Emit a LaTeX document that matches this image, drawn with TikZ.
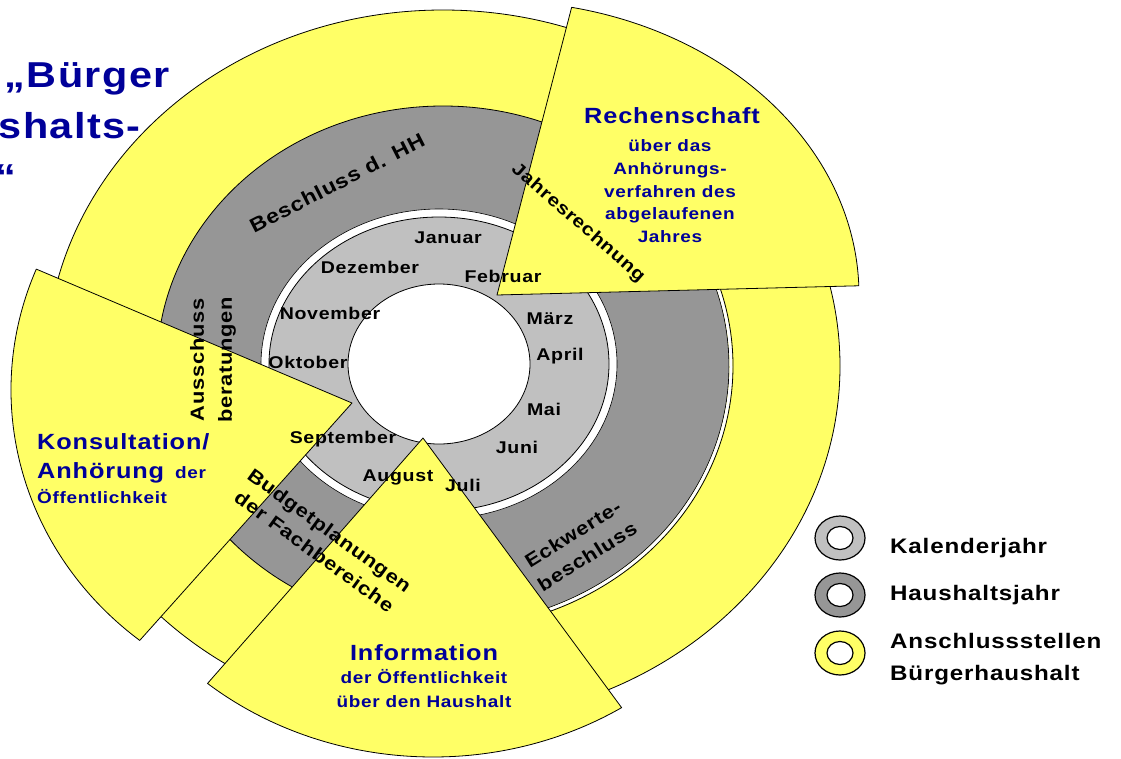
\documentclass[tikz,border=0pt]{standalone}
\usepackage{fontspec}
\setmainfont{Liberation Sans}[FakeStretch=1.15,LetterSpace=4]
\usetikzlibrary{calc}
\definecolor{hhyellow}{RGB}{255,255,102}
\definecolor{hhdark}{RGB}{150,150,150}
\definecolor{hhlight}{RGB}{192,192,192}
\definecolor{hhblue}{RGB}{0,0,153}
\newcommand{\szl}[2]{\fontsize{#1}{#2}\selectfont}
\begin{document}
\begin{tikzpicture}[x=1pt,y=1pt,line join=round,
  ring/.style={draw=black,line width=0.8pt},
  wedge/.style={draw=black,line width=0.8pt,fill=hhyellow},
  month/.style={font=\bfseries\szl{17}{20},inner sep=0pt,text height=12pt,text depth=0pt},
  phase/.style={font=\bfseries\szl{19}{27},inner sep=0pt,align=center},
  bigblue/.style={text=hhblue,font=\bfseries\szl{22}{26},inner sep=0pt,anchor=base},
  smallblue/.style={text=hhblue,font=\bfseries\szl{16.5}{20},inner sep=0pt,anchor=base},
  legendtext/.style={font=\bfseries\szl{21}{25},inner sep=0pt,anchor=base west},
  key/.style={draw=black,line width=1.2pt,even odd rule},
  titletext/.style={text=hhblue,font=\bfseries\szl{36}{40},inner sep=0pt,anchor=base east}]
\useasboundingbox (0,0) rectangle (1121,-758);
\clip (0,0) rectangle (1121,-758);

% rings
\coordinate (Co) at (443,-366);
\coordinate (Ci) at (439,-364);
\path[ring,fill=hhyellow] (Co) ellipse [x radius=397pt,y radius=356pt];
\path[ring,fill=hhdark] (Co) ellipse [x radius=286pt,y radius=260pt];
\draw[white,line width=3pt] ($(Co)+(25:288pt and 262pt)$) arc[start angle=25,end angle=-70,x radius=288pt,y radius=262pt];
\draw[line width=0.8pt] ($(Co)+(25:290pt and 264pt)$) arc[start angle=25,end angle=-70,x radius=290pt,y radius=264pt];
\path[draw=black,line width=0.6pt,fill=white] (Ci) ellipse [x radius=178pt,y radius=155pt];
\path[ring,fill=hhlight] (Ci) ellipse [x radius=170pt,y radius=147pt];
\path[ring,fill=white] (Ci) ellipse [x radius=91pt,y radius=80pt];

% wedges
\coordinate (Ra) at (497,-295);
\path[wedge] (Ra) -- ($(Ra)+(1.8:362pt and 294pt)$) arc[start angle=1.8,end angle=78.1,x radius=362pt,y radius=294pt] -- cycle;
\coordinate (Ka) at (352,-403);
\coordinate (Kc) at (352,-390);
\path[wedge] (Ka) -- ($(Kc)+(157.8:341pt and 320pt)$) arc[start angle=157.8,end angle=231.5,x radius=341pt,y radius=320pt] -- cycle;
\coordinate (Ia) at (423,-438);
\coordinate (Ic) at (433,-438);
\path[wedge] (Ia) -- ($(Ic)+(230.3:353pt and 319pt)$) arc[start angle=230.3,end angle=302.3,x radius=353pt,y radius=319pt] -- cycle;

% months
\node[month] (jan) at (448,-237) {Januar};
\node[month] (feb) at (503,-276) {Februar};
\node[month] (mar) at (550,-318) {März};
\node[month] (apr) at (560,-354) {April};
\node[month] (mai) at (544,-409) {Mai};
\node[month] (jun) at (517,-447) {Juni};
\node[month] (jul) at (463,-485) {Juli};
\node[month] (aug) at (398,-475) {August};
\node[month] (sep) at (343,-437) {September};
\node[month] (okt) at (308,-362) {Oktober};
\node[month] (nov) at (330,-313) {November};
\node[month] (dez) at (370,-267) {Dezember};

% phases
\node[phase,font=\bfseries\szl{20}{27},rotate=27] (beschluss) at (337,-183) {Beschluss d. HH};
\node[phase,font=\bfseries\szl{18}{27},rotate=-41] (jahresr) at (578,-223) {Jahresrechnung};
\node[phase,font=\bfseries\szl{19}{28},rotate=90] (ausschuss) at (213,-360) {Ausschuss\\beratungen};
\node[phase,font=\bfseries\szl{19}{26},rotate=-36] (budget) at (322,-541) {Budgetplanungen\\der Fachbereiche};
\node[phase,rotate=32] (eckwerte) at (580,-545) {Eckwerte-\\beschluss};

% blue texts
\node[bigblue] (rech) at (672,-123) {Rechenschaft};
\node[smallblue] (rech1) at (670,-151) {über das};
\node[smallblue] (rech2) at (670,-174) {Anhörungs-};
\node[smallblue] (rech3) at (670,-197) {verfahren des};
\node[smallblue] (rech4) at (670,-219) {abgelaufenen};
\node[smallblue] (rech5) at (670,-242) {Jahres};
\node[bigblue] (info) at (424,-660) {Information};
\node[smallblue] (info1) at (424,-683) {der Öffentlichkeit};
\node[smallblue] (info2) at (424,-707) {über den Haushalt};
\node[bigblue,anchor=base west] (kons) at (37,-449) {Konsultation/};
\node[bigblue,anchor=base west] (kons1) at (37,-478) {Anhörung};
\node[smallblue,anchor=base west] (kons2) at (175,-478) {der};
\node[smallblue,anchor=base west] (kons3) at (37,-503) {Öffentlichkeit};

% legend
\path[key,fill=hhlight] (840,-538) ellipse [x radius=25pt,y radius=22pt] (840,-538) ellipse [x radius=13pt,y radius=11.5pt];
\path[key,fill=hhdark] (840,-595) ellipse [x radius=25pt,y radius=22pt] (840,-595) ellipse [x radius=13pt,y radius=11.5pt];
\path[key,fill=hhyellow] (840,-653) ellipse [x radius=25pt,y radius=22pt] (840,-653) ellipse [x radius=13pt,y radius=11.5pt];
\node[legendtext] (lk) at (890,-553) {Kalenderjahr};
\node[legendtext] (lh) at (890,-600) {Haushaltsjahr};
\node[legendtext] (la) at (890,-648) {Anschlussstellen};
\node[legendtext] (lb) at (890,-680) {Bürgerhaushalt};

% title (cut off)
\node[titletext] (t1) at (170,-87) {„Bürger};
\node[titletext] (t2) at (141,-138) {shalts-};
\node[titletext] (t3) at (16,-189) {“};
\end{tikzpicture}
\end{document}
